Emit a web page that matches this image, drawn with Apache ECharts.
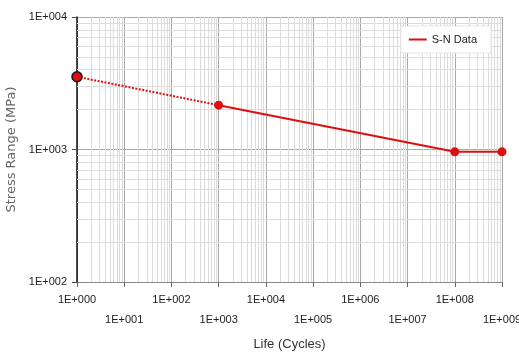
<!DOCTYPE html>
<html>
<head>
<meta charset="utf-8">
<script src="https://cdn.jsdelivr.net/npm/echarts@6/dist/echarts.min.js"></script>
<style>
html,body{margin:0;padding:0;background:#fff;}
#chart{width:519px;height:359px;}
</style>
</head>
<body>
<div id="chart"></div>
<script>
// Data
const cycles = [1, 1e3, 1e8, 1e9];
const stress = [3540, 2160, 960, 960];
const seriesName = 'S-N Data';
const xTitle = 'Life (Cycles)';
const yTitle = 'Stress Range (MPa)';
const xMin = 1, xMax = 1e9;
const yMin = 100, yMax = 10000;

function expLabel(v) {
  const e = Math.round(Math.log10(v));
  return '1E+' + String(e).padStart(3, '0');
}
function minorValues(lo, hi) {
  const out = [];
  for (let d = lo; d < hi; d *= 10) {
    for (let k = 2; k <= 9; k++) out.push(k * d);
  }
  return out;
}
const xMinor = minorValues(xMin, xMax);
const yMinor = minorValues(yMin, yMax);

const dotted = [[cycles[0], stress[0]], [cycles[1], stress[1]]];
const solid = cycles.slice(1).map((c, i) => [c, stress[i + 1]]);

const RED = '#dc1010';
const font = 'Liberation Sans';

const chart = echarts.init(document.getElementById('chart'), null, {renderer: 'canvas'});
chart.setOption({
  backgroundColor: '#fff',
  animation: false,
  grid: {left: 77, right: 17, top: 17, bottom: 77, containLabel: false, outerBoundsMode: 'none'},
  legend: {
    z: 20,
    data: [{name: seriesName, icon: 'rect'}],
    right: 28, top: 26,
    itemWidth: 18, itemHeight: 2, itemGap: 4,
    padding: [8, 14, 8, 8],
    backgroundColor: '#fff',
    borderColor: '#e4e4e4', borderWidth: 1,
    textStyle: {fontFamily: font, fontSize: 11, color: '#222'}
  },
  xAxis: {
    type: 'log', logBase: 10, min: xMin, max: xMax, interval: 1,
    name: xTitle, nameLocation: 'middle', nameGap: 56,
    nameTextStyle: {fontFamily: font, fontSize: 13, color: '#333'},
    axisLine: {show: true, lineStyle: {color: '#888', width: 1}},
    axisTick: {show: true, length: 5, lineStyle: {color: '#666'}},
    axisLabel: {
      fontFamily: font, fontSize: 11, color: '#222', margin: 8, lineHeight: 20,
      showMinLabel: true, showMaxLabel: true, hideOverlap: false,
      formatter: v => {
        const e = Math.round(Math.log10(v));
        return (e % 2 ? '\n' : '') + expLabel(v);
      }
    },
    splitLine: {show: true, lineStyle: {color: '#a8a8a8', width: 1}}
  },
  yAxis: {
    type: 'log', logBase: 10, min: yMin, max: yMax, interval: 1,
    name: yTitle, nameLocation: 'middle', nameGap: 50, nameRotate: 90,
    nameTextStyle: {fontFamily: 'DejaVu Sans', fontSize: 13, color: '#666'},
    axisLine: {show: true, lineStyle: {color: '#111', width: 1.5}},
    axisTick: {show: true, length: 5, lineStyle: {color: '#444'}},
    axisLabel: {fontFamily: font, fontSize: 11, color: '#222', margin: 10,
      formatter: v => expLabel(v)},
    splitLine: {show: true, lineStyle: {color: '#a8a8a8', width: 1}}
  },
  series: [
    {
      type: 'line', name: 'minorX', data: [], silent: true, z: 1,
      markLine: {
        z: 1, silent: true, symbol: 'none', label: {show: false}, animation: false,
        emphasis: {disabled: true},
        lineStyle: {color: '#dcdcdc', width: 1, type: 'solid'},
        data: xMinor.map(v => ({xAxis: v}))
      }
    },
    {
      type: 'line', name: 'minorY', data: [], silent: true, z: 1,
      markLine: {
        z: 1, silent: true, symbol: 'none', label: {show: false}, animation: false,
        emphasis: {disabled: true},
        lineStyle: {color: '#dcdcdc', width: 1, type: 'solid'},
        data: yMinor.map(v => ({yAxis: v}))
      }
    },
    {
      type: 'line', name: 'dotted', z: 6,
      data: dotted.map((p, i) => i === 0
        ? {value: p, symbol: 'circle', symbolSize: 10, itemStyle: {color: RED, borderColor: '#111', borderWidth: 1.5}}
        : {value: p, symbol: 'none'}),
      lineStyle: {color: RED, width: 2, type: [2, 1.5]},
      itemStyle: {color: RED}
    },
    {
      type: 'line', name: seriesName, z: 7,
      data: solid,
      symbol: 'circle', symbolSize: 9, showSymbol: true,
      lineStyle: {color: RED, width: 2},
      itemStyle: {color: RED, borderWidth: 0}
    }
  ]
});
</script>
</body>
</html>
